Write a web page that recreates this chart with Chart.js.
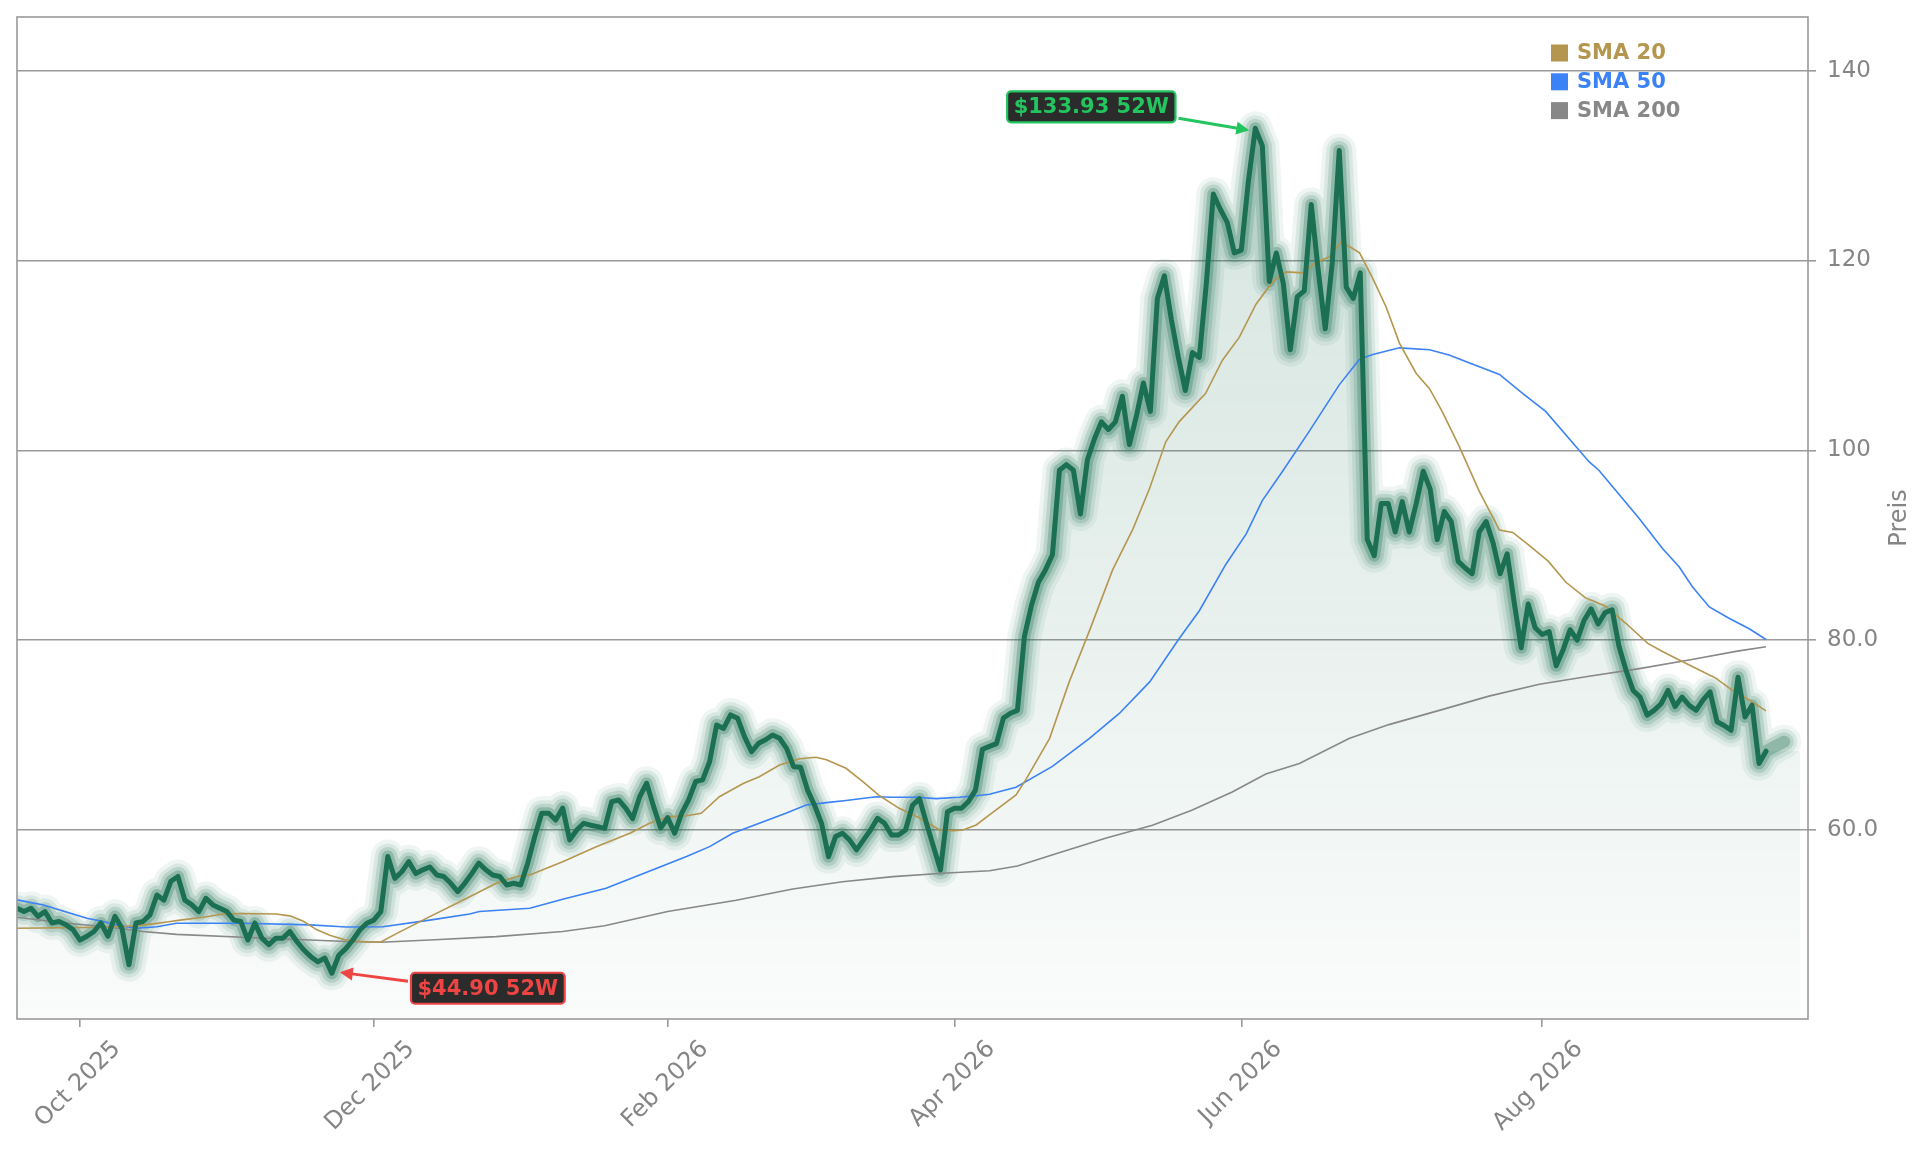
<!DOCTYPE html>
<html>
<head>
<meta charset="utf-8">
<script src="https://cdn.jsdelivr.net/npm/chart.js@4.4.1/dist/chart.umd.min.js"></script>
<style>
html,body{margin:0;padding:0;background:#ffffff;overflow:hidden}
#wrap{width:1929px;height:1151px;position:relative}
</style>
</head>
<body>
<div id="wrap"><canvas id="c"></canvas></div>
<script>
// ---- data (x = trading-day index, 0 = 18 Sep 2025) ----
const priceValues = [
51.75,51.4,51.75,50.9,51.4,50.2,50.35,50.0,49.5,48.4,
48.8,49.3,50.2,48.8,50.9,49.65,45.8,50.2,50.35,51.05,
53.15,52.6,54.6,55.1,52.6,52.1,51.4,52.8,52.1,51.75,
51.4,50.5,50.35,48.4,50.2,48.6,47.9,48.6,48.6,49.3,
48.25,47.35,46.65,46.1,46.5,44.9,46.8,47.5,48.4,49.46,
50.17,50.5,51.4,57.2,54.9,55.6,56.66,55.4,55.8,56.1,
55.26,55.1,54.38,53.5,54.38,55.4,56.5,55.8,55.26,55.1,
54.2,54.38,54.2,56.5,59.3,61.76,61.76,61.05,62.3,58.95,
60.0,60.7,60.5,60.35,60.17,62.98,63.16,62.3,61.2,63.5,
64.92,62.46,60.2,61.3,59.65,61.75,63.16,65.1,65.27,67.2,
71.06,70.7,72.12,71.77,69.8,68.25,69.13,69.5,70.0,69.66,
68.6,66.67,66.6,64.2,62.6,60.7,57.19,59.3,59.65,58.95,
57.9,58.95,60.0,61.23,60.7,59.47,59.47,60.0,62.6,63.3,
60.7,58.24,55.78,61.93,62.28,62.28,63.0,64.2,68.5,68.8,
69.1,71.8,72.3,72.6,80.4,83.65,86.1,87.4,89.0,97.9,
98.5,97.9,93.3,99.0,101.2,103.0,102.2,103.0,105.7,100.6,
103.6,107.1,104.1,116.0,118.4,113.8,109.8,106.3,110.3,109.8,
117.6,127.0,125.4,124.0,120.8,121.1,128.3,133.93,132.1,117.8,
120.8,117.6,110.6,116.2,116.8,125.9,118.9,112.8,119.8,131.6,
117.2,116.0,118.7,90.6,88.9,94.4,94.4,91.4,94.6,91.4,
94.4,97.8,95.9,90.6,93.55,92.5,88.3,87.6,87.0,91.4,
92.5,90.2,87.0,89.1,84.0,79.2,83.8,81.3,80.6,80.9,
77.3,79.0,81.1,80.0,82.1,83.3,81.7,82.9,83.2,79.3,
76.8,74.7,74.0,72.1,72.6,73.3,74.7,73.0,74.0,73.15,
72.6,73.7,74.55,71.4,71.0,70.5,76.1,71.9,73.15,67.0,
68.3
];

const sma20Idx  = [0,12.8,17,19.5,21.9,23.3,26.6,29.5,32.3,37,39,41,42.8,44.7,47,50,52,54.3,59,63.8,68.5,71.4,73.3,78,82.8,87.6,90.4,93.3,95.7,97.8,100.4,103.8,106.1,109,111.9,114.2,115.7,118.5,120.9,123.3,126.1,129.1,131.9,133.8,135.2,137.1,139,142.8,144.2,147.6,150.4,153.3,156.6,159.5,161.9,164.2,166.1,169.9,172.3,174.7,177.1,179.5,181.4,183.8,185.7,187.6,189.2,190.4,191.9,193.8,195.7,197.6,200,201.9,203.7,206.1,209,211.9,213.8,216.1,218.9,221.4,224.2,227,230,233.1,235.2,237.6,240.9,242.8,245.2,247.6,250];
const sma20Vals = [49.64,49.75,49.9,50.1,50.35,50.5,50.8,51.15,51.2,51.15,50.95,50.35,49.5,48.9,48.4,48.2,48.2,49.1,50.87,52.62,54.38,55.1,55.26,56.66,58.24,59.65,60.7,61.4,61.5,61.75,63.5,64.9,65.6,66.85,67.5,67.66,67.4,66.5,65.1,63.6,62.28,61.23,60.0,59.93,60.0,60.53,61.58,63.7,65.3,69.65,75.6,81.0,87.4,91.7,96.0,100.9,103.0,106.0,109.5,111.9,115.4,117.8,118.8,118.7,119.8,120.4,121.9,121.5,120.8,118.1,115.1,111.3,108.1,106.5,104.1,100.5,95.7,91.6,91.35,90.0,88.3,86.1,84.45,83.6,81.75,79.65,78.8,77.9,76.7,76.0,74.7,73.7,72.55];

const sma50Idx  = [0,3.8,6.1,10,12.3,14.7,17.1,20,22.8,32.3,41.9,47.1,52.3,59,64.7,66.1,73.3,78,84.2,91.9,95.7,99,102.3,106.1,109.9,112.8,115.7,118.5,122.8,125.2,128.5,131.4,134.7,137.1,139,142.8,148,153.3,157.6,161.9,166.1,169,172.8,175.7,178,181,184.7,189,191.9,193.8,197.6,201.9,204.7,208,211.9,215.2,218.5,221.9,224.7,226.1,228.5,231.9,235.2,237.6,239.5,241.9,244.7,247.6,250];
const sma50Vals = [52.63,52.1,51.57,50.7,50.35,49.9,49.65,49.8,50.17,50.17,50.0,49.78,49.8,50.5,51.15,51.4,51.75,52.7,53.85,56.1,57.2,58.24,59.65,60.7,61.75,62.63,62.88,63.1,63.5,63.44,63.44,63.3,63.44,63.6,63.76,64.5,66.7,69.65,72.3,75.6,80.15,83.1,88.0,91.2,94.7,97.9,102.0,106.9,109.6,110.1,110.8,110.6,110.05,109.1,108.0,106.0,104.1,101.2,98.8,97.9,95.8,92.8,89.66,87.7,85.6,83.5,82.3,81.2,80.07];

const sma200Idx  = [0,6.1,13.3,18,22.8,32.3,41.9,47.1,52,59,68.5,78,84,93,102.8,110.9,118,125.2,132.3,139,143,148.5,155.7,162.3,168,173.7,178.5,183.3,190.4,196.1,203.3,210.4,217.6,224.7,231.9,239,245.9,250];
const sma200Vals = [50.8,50.24,49.75,49.3,49.0,48.7,48.41,48.24,48.16,48.4,48.76,49.3,49.9,51.4,52.6,53.78,54.55,55.08,55.43,55.7,56.2,57.5,59.15,60.5,62.1,64.0,65.9,67.0,69.64,71.1,72.6,74.1,75.35,76.2,77.0,77.9,78.84,79.3];

const fillTailIdx = 254.9;            // area continues flat past the last close
const glowTail = {x: 252.6, y: 69.3}; // glow stroke tail after the last close

const monthTickIdx = [9,51,93,134,175,218];
const monthLabels  = ['Oct 2025','Dec 2025','Feb 2026','Apr 2026','Jun 2026','Aug 2026'];
const yTickValues  = [60,80,100,120,140];
const legendLabels = ['SMA 20','SMA 50','SMA 200'];
const axisTitle    = 'Preis';

// ---- styles ----
const C_SMA20='#b5964f', C_SMA50='#3b82f6', C_SMA200='#888888';
const C_CORE='#1b6f52';
const C_GRID='#9a9a9a', C_TEXT='#858585';
const FONT='DejaVu Sans';

const pricePts = priceValues.map((v,i)=>({x:i,y:v}));
const lastIdx = priceValues.length-1;
const fillPts = pricePts.concat([{x:fillTailIdx,y:priceValues[lastIdx]}]);
const glowPts = pricePts.concat([glowTail]);
const toPts = (xs,ys)=>xs.map((x,i)=>({x:x,y:ys[i]}));

let hiIdx=0, loIdx=0;
priceValues.forEach((v,i)=>{ if(v>priceValues[hiIdx]) hiIdx=i; if(v<priceValues[loIdx]) loIdx=i; });

const glowLayers = [
  {w:34,a:0.07},{w:26,a:0.10},{w:19,a:0.16},{w:12,a:0.28}
];

const datasets = [];
datasets.push({
  data: fillPts, order: 20, borderWidth: 0, pointRadius: 0, clip: 0,
  fill: 'start',
  backgroundColor: (ctx)=>{
    const ch = ctx.chart, ca = ch.chartArea;
    if(!ca) return 'rgba(27,111,82,0.06)';
    const g = ch.ctx.createLinearGradient(0, ca.top, 0, ca.bottom);
    g.addColorStop(0, 'rgba(27,111,82,0.20)');
    g.addColorStop(0.45, 'rgba(27,111,82,0.13)');
    g.addColorStop(0.8, 'rgba(27,111,82,0.06)');
    g.addColorStop(1, 'rgba(27,111,82,0.025)');
    return g;
  }
});
glowLayers.forEach((l,k)=>{
  datasets.push({
    data: glowPts, order: 15-k, borderWidth: l.w, borderColor: `rgba(27,111,82,${l.a})`,
    pointRadius: 0, fill: false, clip: 0, borderJoinStyle: 'round', borderCapStyle: 'round'
  });
});
datasets.push({data: toPts(sma200Idx,sma200Vals), order: 5, borderColor: C_SMA200, borderWidth: 1.6, pointRadius: 0, fill: false, clip: 0});
datasets.push({data: toPts(sma50Idx,sma50Vals), order: 4, borderColor: C_SMA50, borderWidth: 1.6, pointRadius: 0, fill: false, clip: 0});
datasets.push({data: toPts(sma20Idx,sma20Vals), order: 3, borderColor: C_SMA20, borderWidth: 1.6, pointRadius: 0, fill: false, clip: 0});
datasets.push({data: pricePts, order: 1, borderColor: C_CORE, borderWidth: 5, pointRadius: 0, fill: false, clip: 0, borderJoinStyle: 'round', borderCapStyle: 'round'});

const framePlugin = {
  id: 'frame',
  afterDatasetsDraw(chart){
    const {ctx, chartArea: a} = chart;
    ctx.save();
    ctx.strokeStyle = C_GRID; ctx.lineWidth = 1.6;
    ctx.strokeRect(a.left, a.top, a.right-a.left, a.bottom-a.top);
    ctx.restore();
  }
};

const legendPlugin = {
  id: 'customLegend',
  afterDraw(chart){
    const {ctx, chartArea: a} = chart;
    const cols = [C_SMA20, C_SMA50, C_SMA200];
    ctx.save();
    ctx.font = `bold 21px "${FONT}"`;
    ctx.textBaseline = 'middle'; ctx.textAlign = 'left';
    legendLabels.forEach((t,i)=>{
      const cy = a.top + 36 + i*28.8;
      const sx = a.right - 257;
      ctx.fillStyle = cols[i];
      ctx.fillRect(sx, cy-8.5, 17, 17);
      ctx.fillText(t, sx+26, cy+1);
    });
    ctx.restore();
  }
};

function arrow(ctx, x1,y1,x2,y2,color){
  const ang = Math.atan2(y2-y1, x2-x1), L=13, W=6.5;
  ctx.strokeStyle = color; ctx.fillStyle = color; ctx.lineWidth = 3;
  ctx.beginPath(); ctx.moveTo(x1,y1);
  ctx.lineTo(x2 - Math.cos(ang)*L*0.8, y2 - Math.sin(ang)*L*0.8); ctx.stroke();
  ctx.beginPath();
  ctx.moveTo(x2,y2);
  ctx.lineTo(x2 - L*Math.cos(ang) + W*Math.sin(ang), y2 - L*Math.sin(ang) - W*Math.cos(ang));
  ctx.lineTo(x2 - L*Math.cos(ang) - W*Math.sin(ang), y2 - L*Math.sin(ang) + W*Math.cos(ang));
  ctx.closePath(); ctx.fill();
}
function labelBox(ctx, cx, cy, text, color){
  ctx.font = `bold 21px "${FONT}"`;
  const w = ctx.measureText(text).width + 13, h = 31;
  const x = cx - w/2, y = cy - h/2;
  ctx.beginPath();
  ctx.roundRect(x, y, w, h, 4);
  ctx.fillStyle = '#2b2b2b'; ctx.fill();
  ctx.lineWidth = 2.2; ctx.strokeStyle = color; ctx.stroke();
  ctx.fillStyle = color; ctx.textAlign = 'center'; ctx.textBaseline = 'middle';
  ctx.fillText(text, cx, cy+1);
  return {x, y, w, h};
}
const annotPlugin = {
  id: 'annot',
  afterDraw(chart){
    const {ctx} = chart; const xs = chart.scales.x, ys = chart.scales.y;
    ctx.save();
    // high
    let px = xs.getPixelForValue(hiIdx), py = ys.getPixelForValue(priceValues[hiIdx]);
    const hiText = '$' + priceValues[hiIdx].toFixed(2) + ' 52W';
    let b = labelBox(ctx, px-164, py-21.5, hiText, '#22c55e');
    arrow(ctx, b.x+b.w+3, b.y+b.h/2+11.5, px-6, py+2, '#22c55e');
    // low
    px = xs.getPixelForValue(loIdx); py = ys.getPixelForValue(priceValues[loIdx]);
    const loText = '$' + priceValues[loIdx].toFixed(2) + ' 52W';
    b = labelBox(ctx, px+156, py+15, loText, '#ef4444');
    arrow(ctx, b.x-3, b.y+b.h/2-7, px+8, py-1, '#ef4444');
    // y title
    ctx.fillStyle = C_TEXT; ctx.font = `24px "${FONT}"`;
    ctx.textAlign = 'center'; ctx.textBaseline = 'middle';
    ctx.translate(chart.width-29, (chart.chartArea.top+chart.chartArea.bottom)/2);
    ctx.rotate(-Math.PI/2);
    ctx.fillText(axisTitle, 0, 0);
    ctx.restore();
  }
};

new Chart(document.getElementById('c'), {
  type: 'line',
  data: { datasets },
  options: {
    responsive: true, maintainAspectRatio: false, animation: false,
    events: [],
    layout: { padding: { left: 17, top: 17, right: 0, bottom: 0 } },
    plugins: { legend: { display: false }, tooltip: { enabled: false } },
    scales: {
      x: {
        type: 'linear', position: 'bottom', min: 0, max: 256,
        border: { display: false },
        grid: { drawOnChartArea: false, drawTicks: true, tickLength: 8, color: C_GRID, lineWidth: 1.6 },
        ticks: {
          autoSkip: false, minRotation: 45, maxRotation: 45, padding: 8, labelOffset: 37,
          color: C_TEXT, font: { family: FONT, size: 24 },
          callback: (v)=>{ const k = monthTickIdx.indexOf(v); return k>=0 ? monthLabels[k] : ''; }
        },
        afterBuildTicks: (s)=>{ s.ticks = monthTickIdx.map(v=>({value:v})); },
        afterFit: (s)=>{ s.height = 132; s.paddingLeft = 0; s.paddingRight = 0; }
      },
      y: {
        type: 'linear', position: 'right', min: 40.08, max: 145.66,
        border: { display: false },
        grid: { color: C_GRID, lineWidth: 1.6, drawTicks: true, tickLength: 8 },
        ticks: {
          padding: 11, color: C_TEXT, font: { family: FONT, size: 23 },
          callback: (v)=> v >= 100 ? String(v) : v.toFixed(1)
        },
        afterBuildTicks: (s)=>{ s.ticks = yTickValues.map(v=>({value:v})); },
        afterFit: (s)=>{ s.width = 121; s.paddingTop = 0; s.paddingBottom = 0; }
      }
    }
  },
  plugins: [framePlugin, legendPlugin, annotPlugin]
});
</script>
</body>
</html>
